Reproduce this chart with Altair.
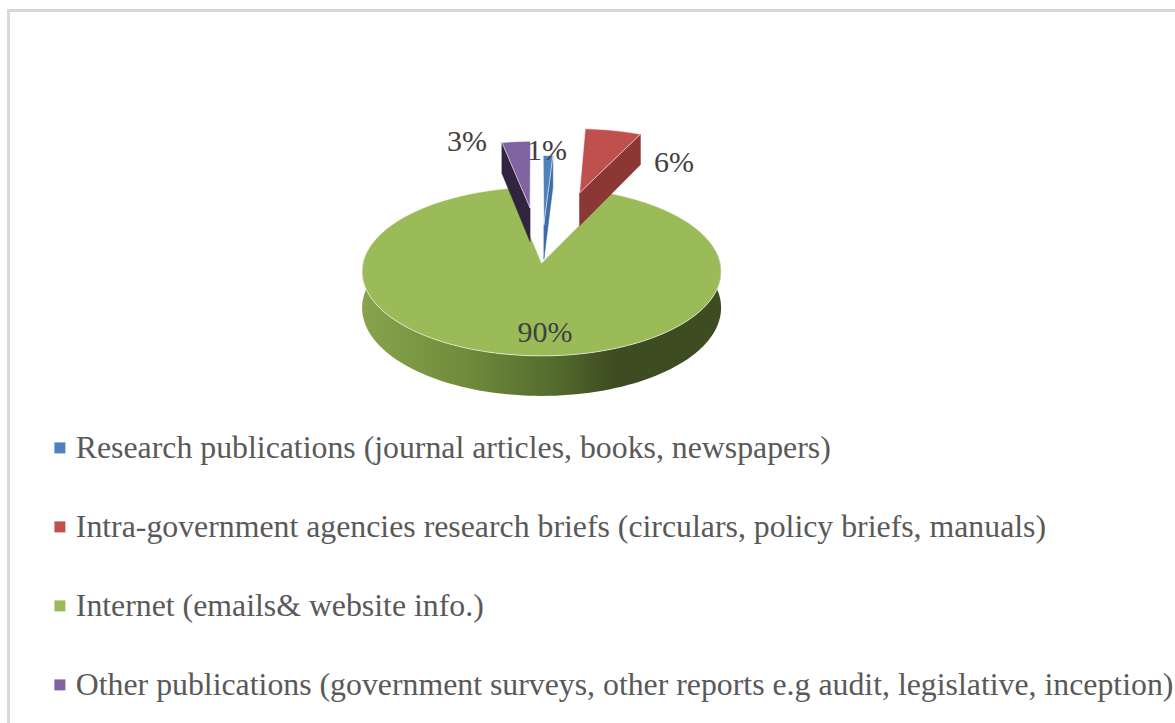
import math
import altair as alt
import pandas as pd

# Source categories, in pie order (clockwise)
categories = [
    "Research publications (journal articles, books, newspapers)",
    "Intra-government agencies research briefs (circulars, policy briefs, manuals)",
    "Internet (emails& website info.)",
    "Other publications (government surveys, other reports e.g audit, legislative, inception)",
]
shares = [1, 6, 90, 3]
share_labels = ["1%", "6%", "90%", "3%"]

top_colors = ["#4f81bd", "#c0504d", "#9bbb59", "#8064a2"]
wall_colors = ["#3d6ca6", "#8a3735", "#5f7a35", "#30243f"]

# Layout of the perspective pie
WIDTH, HEIGHT = 1175, 723
CX, CY = 541.6, 263
RX, RY = 178.6, 83.6
PERSPECTIVE = 0.1
WALL = 36
START_ANGLE = -0.2
EXPLODE = [0.476, 0.944, 0.0, 0.707]
LABEL_XY = [(547, 151), (674, 163), (545, 333), (467, 142)]


def project(a, b, drop=0.0):
    """Map a point of the tilted pie plane to chart pixels."""
    w = 1 + PERSPECTIVE * b
    return CX + RX * a / w, CY - RY * b / w + drop / w


def rim(apex, deg, drop=0.0):
    t = math.radians(deg)
    return project(apex[0] + math.sin(t), apex[1] + math.cos(t), drop)


def frame(points):
    return pd.DataFrame(
        [{"i": i, "px": p[0], "py": p[1]} for i, p in enumerate(points)]
    )


x_enc = alt.X("px:Q", scale=alt.Scale(domain=[0, WIDTH], range=[0, WIDTH]), axis=None)
y_enc = alt.Y("py:Q", scale=alt.Scale(domain=[0, HEIGHT], range=[0, HEIGHT]), axis=None)
order_enc = alt.Order("i:Q")
color_scale = alt.Scale(domain=categories, range=top_colors)

# Angular extent of every slice
spans = []
angle = START_ANGLE
for s in shares:
    sweep = 360 * s / sum(shares)
    spans.append((angle, angle + sweep))
    angle += sweep


def top_layer(k):
    a0, a1 = spans[k]
    mid = math.radians((a0 + a1) / 2)
    apex = (EXPLODE[k] * math.sin(mid), EXPLODE[k] * math.cos(mid))
    n = max(2, int((a1 - a0) / 1.5))
    pts = [project(*apex)]
    pts += [rim(apex, a0 + (a1 - a0) * j / n) for j in range(n + 1)]
    pts.append(pts[0])
    df = frame(pts).assign(source=categories[k])
    return alt.Chart(df).mark_line(
        stroke="#ffffff", strokeOpacity=0.6, strokeWidth=1
    ).encode(
        x=x_enc, y=y_enc, order=order_enc,
        fill=alt.Fill(
            "source:N", scale=color_scale,
            legend=alt.Legend(
                title=None, orient="none", legendX=44, legendY=432,
                direction="vertical", columns=1,
                symbolType="square", symbolSize=121, symbolStrokeWidth=0,
                symbolOpacity=1,
                labelFont="Liberation Serif", labelFontSize=31.8,
                labelColor="#595959", labelLimit=1400, labelOffset=0,
                rowPadding=46, padding=0,
            ),
        ),
    )


def radial_wall(k, deg, color):
    a0, a1 = spans[k]
    mid = math.radians((a0 + a1) / 2)
    apex = (EXPLODE[k] * math.sin(mid), EXPLODE[k] * math.cos(mid))
    pts = [
        rim(apex, deg),
        project(*apex),
        project(*apex, WALL),
        rim(apex, deg, WALL),
    ]
    pts.append(pts[0])
    return alt.Chart(frame(pts)).mark_line(
        fill=color, stroke=color, strokeWidth=0.5
    ).encode(x=x_enc, y=y_enc, order=order_enc)


# Curved front wall of the large slice, shaded from left to right
front_top = [rim((0, 0), d) for d in range(80, 281, 2)]
front_bottom = [rim((0, 0), d, WALL) for d in range(280, 79, -2)]
front_pts = front_top + front_bottom + [front_top[0]]
front_gradient = alt.Gradient(
    gradient="linear", x1=0, x2=1, y1=0, y2=0,
    stops=[
        alt.GradientStop(offset=0, color="#87a44c"),
        alt.GradientStop(offset=0.3, color="#6f8a3b"),
        alt.GradientStop(offset=0.55, color="#52692c"),
        alt.GradientStop(offset=0.7, color="#3e4c22"),
        alt.GradientStop(offset=1, color="#3e4c22"),
    ],
)
front_wall = alt.Chart(frame(front_pts)).mark_line(
    fill=front_gradient, strokeOpacity=0, strokeWidth=0
).encode(x=x_enc, y=y_enc, order=order_enc)

# Percentage labels
labels_df = pd.DataFrame({
    "px": [p[0] for p in LABEL_XY],
    "py": [p[1] for p in LABEL_XY],
    "label": share_labels,
})
labels = alt.Chart(labels_df).mark_text(
    font="Liberation Serif", fontSize=30, color="#404040",
    align="center", baseline="middle",
).encode(x=x_enc, y=y_enc, text="label:N")

# Frame of the chart area: left and top edges
border_left = alt.Chart(pd.DataFrame({"n": [0]})).mark_rule(
    color="#d9d9d9", strokeWidth=3
).encode(x=alt.value(8.5), y=alt.value(10.5), y2=alt.value(HEIGHT))
border_top = alt.Chart(pd.DataFrame({"n": [0]})).mark_rule(
    color="#d9d9d9", strokeWidth=3
).encode(x=alt.value(7), x2=alt.value(WIDTH), y=alt.value(10.5))

chart = alt.layer(
    border_left, border_top,
    front_wall, top_layer(2),
    radial_wall(3, spans[3][0], wall_colors[3]), top_layer(3),
    radial_wall(0, spans[0][1], wall_colors[0]), top_layer(0),
    radial_wall(1, spans[1][1], wall_colors[1]), top_layer(1),
    labels,
).properties(
    width=WIDTH, height=HEIGHT, padding=0,
    autosize=alt.AutoSizeParams(type="none"),
).configure_view(stroke=None)

chart.save("out.html", embed_options={"renderer": "svg", "actions": False})
